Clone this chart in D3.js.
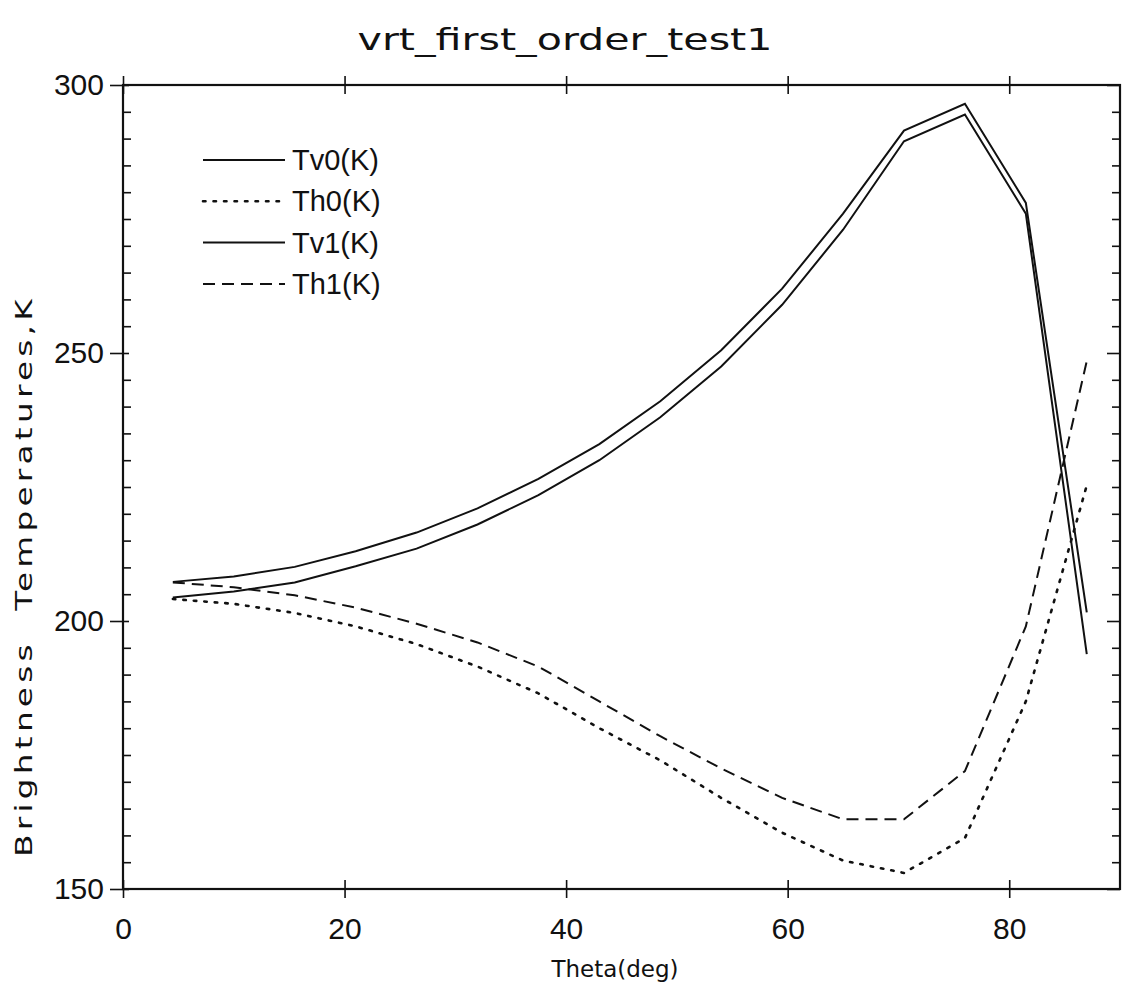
<!DOCTYPE html>
<html>
<head>
<meta charset="utf-8">
<script src="https://cdn.jsdelivr.net/npm/d3@7"></script>
<style>
  body { margin: 0; background: #fff; }
  svg { display: block; }
  .axis path { display: none; }
  .axis line { stroke: #111; stroke-width: 1.6px; }
  .axis text { font-family: 'Liberation Sans', sans-serif; font-size: 30px; fill: #111; }
</style>
</head>
<body>
<svg id="chart"></svg>
<script>
// angles (deg) and brightness temperatures (K)
const theta = [4.5, 10, 15.5, 21, 26.5, 32, 37.5, 43, 48.5, 54, 59.5, 65, 70.5, 76, 81.5, 87];
const tv0 = [207.3, 208.3, 210.1, 213.0, 216.5, 221.0, 226.5, 233.0, 241.0, 250.5, 262.0, 276.0, 291.5, 296.5, 278.0, 201.6];
const th0 = [204.1, 203.2, 201.5, 199.0, 195.7, 191.5, 186.5, 180.0, 174.0, 167.0, 160.5, 155.3, 153.0, 159.5, 185.0, 225.3];
const tv1 = [204.4, 205.5, 207.2, 210.2, 213.5, 218.0, 223.5, 230.0, 238.0, 247.5, 259.0, 273.0, 289.5, 294.5, 276.0, 193.8];
const th1 = [207.2, 206.3, 204.8, 202.5, 199.5, 196.0, 191.5, 185.0, 178.5, 172.5, 167.0, 163.0, 163.0, 172.0, 199.0, 248.5];

const seriesNames = ['Tv0(K)', 'Th0(K)', 'Tv1(K)', 'Th1(K)'];
const seriesValues = [tv0, th0, tv1, th1];
const dashes = [null, '2.5,8', null, '12,7'];

const xTicks = [0, 20, 40, 60, 80];
const yTicks = [150, 200, 250, 300];

const width = 1125;
const height = 990;

const svg = d3.select('#chart')
  .attr('width', width)
  .attr('height', height);

const x = d3.scaleLinear().domain([0, 90]).range([123, 1120]);
const y = d3.scaleLinear().domain([150, 300]).range([889, 85]);

const yMinor = d3.range(150, 301, 5).filter(v => yTicks.indexOf(v) < 0);

// frame
svg.append('rect')
  .attr('x', x(0))
  .attr('y', y(300))
  .attr('width', x(90) - x(0))
  .attr('height', y(150) - y(300))
  .attr('fill', 'none')
  .attr('stroke', '#111')
  .attr('stroke-width', 2.2);

// bottom axis: labels + outward ticks, then inward ticks
svg.append('g')
  .attr('class', 'axis')
  .attr('transform', `translate(0, ${y(150)})`)
  .call(d3.axisBottom(x).tickValues(xTicks).tickSize(9).tickPadding(20).tickFormat(d3.format('d')));
svg.append('g')
  .attr('class', 'axis')
  .attr('transform', `translate(0, ${y(150)})`)
  .call(d3.axisBottom(x).tickValues(xTicks).tickSize(-9).tickFormat(''));

// top axis
svg.append('g')
  .attr('class', 'axis')
  .attr('transform', `translate(0, ${y(300)})`)
  .call(d3.axisTop(x).tickValues(xTicks).tickSize(9).tickFormat(''));
svg.append('g')
  .attr('class', 'axis')
  .attr('transform', `translate(0, ${y(300)})`)
  .call(d3.axisTop(x).tickValues(xTicks).tickSize(-9).tickFormat(''));

// left axis
svg.append('g')
  .attr('class', 'axis')
  .attr('transform', `translate(${x(0)}, 0)`)
  .call(d3.axisLeft(y).tickValues(yTicks).tickSize(13).tickPadding(6).tickFormat(d3.format('d')));
svg.append('g')
  .attr('class', 'axis')
  .attr('transform', `translate(${x(0)}, 0)`)
  .call(d3.axisLeft(y).tickValues(yTicks).tickSize(-6).tickFormat(''));
svg.append('g')
  .attr('class', 'axis')
  .attr('transform', `translate(${x(0)}, 0)`)
  .call(d3.axisLeft(y).tickValues(yMinor).tickSize(-8).tickFormat(''));

// right axis
svg.append('g')
  .attr('class', 'axis')
  .attr('transform', `translate(${x(90)}, 0)`)
  .call(d3.axisRight(y).tickValues(yTicks).tickSize(-13).tickFormat(''));
svg.append('g')
  .attr('class', 'axis')
  .attr('transform', `translate(${x(90)}, 0)`)
  .call(d3.axisRight(y).tickValues(yMinor).tickSize(-8).tickFormat(''));

// curves
const line = d3.line()
  .x((d, i) => x(theta[i]))
  .y(d => y(d));

svg.append('g')
  .selectAll('path')
  .data(seriesValues)
  .enter().append('path')
  .attr('d', d => line(d))
  .attr('fill', 'none')
  .attr('stroke', '#111')
  .attr('stroke-width', (d, i) => (dashes[i] === '2.5,8' ? 2.6 : 2))
  .attr('stroke-linecap', (d, i) => (dashes[i] === '2.5,8' ? 'round' : 'butt'))
  .attr('stroke-dasharray', (d, i) => dashes[i]);

// legend
const legend = svg.append('g')
  .attr('transform', 'translate(203, 160)')
  .selectAll('g')
  .data(seriesNames)
  .enter().append('g')
  .attr('transform', (d, i) => `translate(0, ${i * 41.3})`);

legend.append('line')
  .attr('x1', 0)
  .attr('x2', 82)
  .attr('stroke', '#111')
  .attr('stroke-width', (d, i) => (dashes[i] === '2.5,8' ? 2.6 : 2))
  .attr('stroke-linecap', (d, i) => (dashes[i] === '2.5,8' ? 'round' : 'butt'))
  .attr('stroke-dasharray', (d, i) => dashes[i]);

legend.append('text')
  .attr('x', 89)
  .attr('y', 10)
  .attr('font-family', "'Liberation Sans', sans-serif")
  .attr('font-size', 29)
  .attr('fill', '#111')
  .text(d => d);

// title and axis labels
svg.append('text')
  .attr('x', 565)
  .attr('y', 50)
  .attr('text-anchor', 'middle')
  .attr('font-family', "'DejaVu Sans', sans-serif")
  .attr('font-size', 31)
  .attr('textLength', 415)
  .attr('lengthAdjust', 'spacingAndGlyphs')
  .attr('fill', '#111')
  .text('vrt_first_order_test1');

svg.append('text')
  .attr('x', 615)
  .attr('y', 977)
  .attr('text-anchor', 'middle')
  .attr('font-family', "'DejaVu Sans', sans-serif")
  .attr('font-size', 23)
  .attr('fill', '#111')
  .text('Theta(deg)');

svg.append('text')
  .attr('transform', 'translate(32, 576) rotate(-90)')
  .attr('text-anchor', 'middle')
  .attr('font-family', "'DejaVu Sans', sans-serif")
  .attr('font-size', 23)
  .attr('letter-spacing', 3)
  .attr('textLength', 562)
  .attr('lengthAdjust', 'spacingAndGlyphs')
  .attr('fill', '#111')
  .attr('xml:space', 'preserve')
  .text('Brightness  Temperatures,K');
</script>
</body>
</html>
